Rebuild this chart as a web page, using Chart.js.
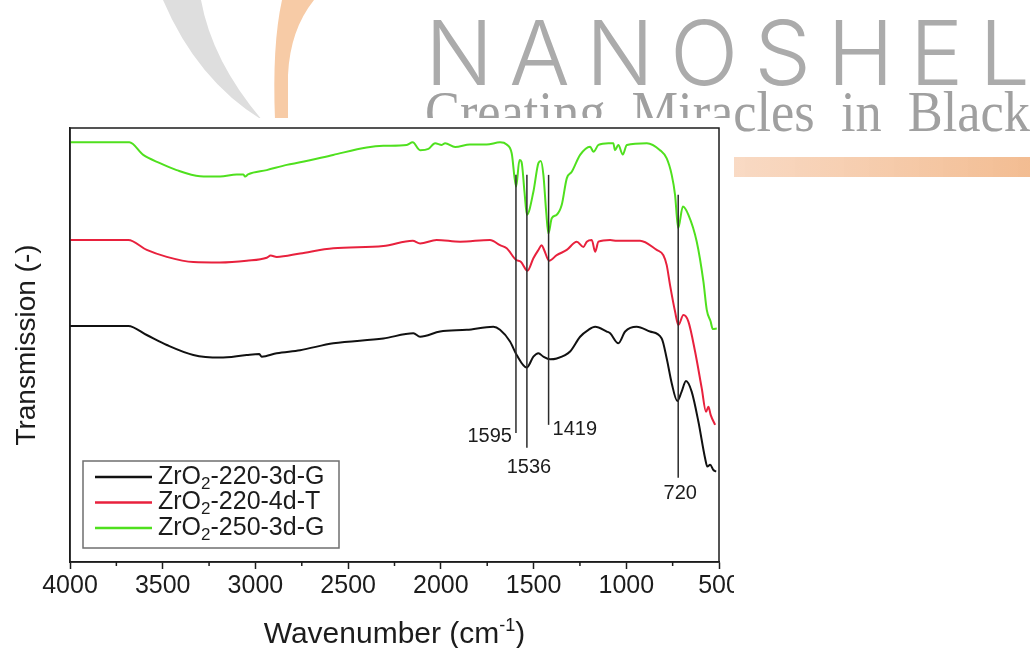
<!DOCTYPE html>
<html>
<head>
<meta charset="utf-8">
<script src="https://cdn.jsdelivr.net/npm/chart.js@4.4.0/dist/chart.umd.min.js"></script>
<style>
  html, body { margin: 0; padding: 0; background: #fff; }
  canvas { display: block; }
</style>
</head>
<body>
<canvas id="ftir" width="1036" height="648"></canvas>
<script>
// FTIR spectra, values (transmission in arbitrary units)
const wnBlack = [4000,3686,3586,3478,3335,3191,3047,2979,2966,2885,2759,2580,2310,2148,2112,2004,1860,1717,1681,1627,1591,1537,1501,1474,1447,1411,1375,1303,1249,1204,1168,1105,1087,1043,1006,944,872,809,782,755,725,702,678,647,611,575,563,548,530,516];
const tBlack  = [54.4,54.4,52.3,50.0,47.7,47.1,47.7,47.9,47.3,48.1,48.8,50.4,51.5,52.7,51.9,53.1,53.5,54.2,53.5,50.8,47.7,44.8,47.3,48.1,47.3,46.7,46.9,48.5,51.9,53.5,54.2,53.1,52.7,50.4,53.1,54.2,53.1,51.5,46.9,41.2,37.1,39.2,41.7,39.2,32.3,23.9,22.0,22.4,21.2,20.8];

const wnRed = [4000,3686,3586,3478,3335,3191,3047,2939,2918,2885,2759,2580,2310,2152,2112,2023,1896,1735,1681,1645,1594,1569,1533,1501,1474,1456,1443,1416,1375,1321,1267,1231,1213,1186,1168,1150,1087,1051,926,836,800,782,764,737,719,692,665,629,593,570,557,545,521];
const tRed  = [74.2,74.2,71.9,70.3,69.1,69.0,69.4,70.1,70.6,70.3,71.1,72.3,72.8,74.0,73.4,74.2,73.8,74.2,73.0,72.3,69.6,69.2,67.1,70.0,71.9,73.0,71.9,69.4,70.7,71.9,73.8,72.6,73.8,74.2,71.5,73.8,74.2,74.0,74.0,71.9,70.7,68.4,63.8,57.7,54.6,56.9,55.4,48.5,40.0,34.6,35.8,33.9,31.6];

const wnGreen = [4000,3680,3605,3515,3425,3299,3191,3101,3065,3056,3040,2939,2831,2759,2581,2400,2310,2184,2152,2112,2067,2031,1995,1977,1923,1843,1753,1681,1645,1618,1594,1576,1565,1549,1536,1501,1474,1461,1447,1432,1420,1402,1375,1348,1321,1294,1249,1195,1177,1150,1096,1070,1061,1043,1019,997,889,818,782,755,737,720,695,665,620,584,566,545,534,512];
const tGreen  = [96.7,96.7,93.8,91.9,90.3,88.9,88.8,89.3,89.3,88.8,89.3,90.3,91.5,92.1,93.8,95.5,95.9,96.1,96.7,94.9,95.2,96.5,96.1,96.5,95.6,96.2,96.2,96.7,96.2,94.2,86.5,92.6,92.2,85.3,80.0,85.3,91.9,92.4,89.2,80.7,75.7,79.2,80.0,82.3,88.4,89.9,93.8,95.7,94.5,96.1,96.5,96.5,94.9,96.1,93.9,96.1,96.5,94.9,93.0,89.2,84.6,76.9,81.9,80.0,73.8,64.6,58.1,55.4,53.7,53.8];

// marked bands: wavenumber, top and bottom of the marker line (same units as the spectra)
const peakWn     = [1595, 1536, 1419, 720];
const peakTop    = [89.2, 89.2, 89.2, 84.6];
const peakBottom = [29.7, 26.3, 31.6, 19.4];

const xTicks = [4000, 3500, 3000, 2500, 2000, 1500, 1000, 500];

// label placement for the markers
const peakSide = ['left', 'below', 'right', 'below'];
const peakDy   = [3, 20, 5, 16];

const INK = '#1c1c1c';
const FONT = "'Liberation Sans', Arial, Helvetica, sans-serif";

const toPoints = (xs, ys) => xs.map((x, i) => ({ x: x, y: ys[i] }));

// logo in the background, partly hidden by the figure
const watermark = {
    id: 'watermark',
    beforeDraw(chart) {
        const ctx = chart.ctx;
        ctx.save();

        // grey swoosh
        ctx.fillStyle = '#dedede';
        ctx.beginPath();
        ctx.moveTo(163, 0);
        ctx.quadraticCurveTo(197, 80, 262, 120);
        ctx.quadraticCurveTo(212, 61, 201, 0);
        ctx.closePath();
        ctx.fill();

        // orange swoosh
        ctx.fillStyle = '#f7cba6';
        ctx.beginPath();
        ctx.moveTo(282, 0);
        ctx.quadraticCurveTo(272, 45, 275, 120);
        ctx.lineTo(288, 120);
        ctx.lineTo(288, 75);
        ctx.quadraticCurveTo(290, 30, 314, 0);
        ctx.closePath();
        ctx.fill();

        // NANOSHEL, spread letters
        ctx.fillStyle = '#ababab';
        ctx.font = "350 90px Inter, 'DejaVu Sans', sans-serif";
        ctx.textBaseline = 'alphabetic';
        const word = 'NANOSHEL'.split('');
        const widths = word.map(ch => ctx.measureText(ch).width);
        const total = widths.reduce((a, b) => a + b, 0);
        const gap = (605 - total) / (word.length - 1);
        let cx = 425;
        word.forEach((ch, i) => {
            ctx.fillText(ch, cx, 85);
            cx += widths[i] + gap;
        });

        // tagline
        ctx.fillStyle = '#a0a0a0';
        ctx.font = "56px 'Liberation Serif', 'Times New Roman', serif";
        const tag = 'Creating  Miracles  in  Black';
        const tw = ctx.measureText(tag).width;
        ctx.save();
        ctx.translate(425, 131);
        ctx.scale(605 / tw, 1);
        ctx.fillText(tag, 0, 0);
        ctx.restore();

        // orange bar
        const g = ctx.createLinearGradient(733, 0, 1030, 0);
        g.addColorStop(0, 'rgba(248,214,190,0.9)');
        g.addColorStop(1, 'rgba(242,185,140,0.95)');
        ctx.fillStyle = g;
        ctx.fillRect(733, 157, 297, 20);

        // the figure itself sits on white
        ctx.fillStyle = '#fff';
        ctx.fillRect(0, 118, 734, 530);
        ctx.restore();
    }
};

// marker lines for the assigned bands
const peaks = {
    id: 'peaks',
    afterDatasetsDraw(chart) {
        const { ctx, scales: { x, y } } = chart;
        ctx.save();
        ctx.strokeStyle = '#2b2b2b';
        ctx.lineWidth = 1.5;
        ctx.fillStyle = INK;
        ctx.font = `20px ${FONT}`;
        peakWn.forEach((wn, i) => {
            const px = x.getPixelForValue(wn);
            const top = y.getPixelForValue(peakTop[i]);
            const bot = y.getPixelForValue(peakBottom[i]);
            ctx.beginPath();
            ctx.moveTo(px, top);
            ctx.lineTo(px, bot);
            ctx.stroke();

            ctx.textBaseline = 'middle';
            if (peakSide[i] === 'left') {
                ctx.textAlign = 'right';
                ctx.fillText(String(wn), px - 4, bot + peakDy[i]);
            } else if (peakSide[i] === 'right') {
                ctx.textAlign = 'left';
                ctx.fillText(String(wn), px + 4, bot + peakDy[i]);
            } else {
                ctx.textAlign = 'center';
                ctx.fillText(String(wn), px + 2, bot + peakDy[i]);
            }
        });
        ctx.restore();
    }
};

// frame, minor ticks, legend with subscripts, axis title with superscript
const extras = {
    id: 'extras',
    afterDraw(chart) {
        const { ctx, chartArea: a, scales: { x } } = chart;
        ctx.save();

        ctx.strokeStyle = INK;
        ctx.lineWidth = 1.5;
        ctx.strokeRect(a.left, a.top, a.right - a.left, a.bottom - a.top);

        // minor ticks halfway between labels
        for (let i = 0; i < xTicks.length - 1; i++) {
            const px = x.getPixelForValue((xTicks[i] + xTicks[i + 1]) / 2);
            ctx.beginPath();
            ctx.moveTo(px, a.bottom);
            ctx.lineTo(px, a.bottom + 4);
            ctx.stroke();
        }

        // legend
        const lx = 83, ly = 461, lw = 256, lh = 87;
        ctx.strokeStyle = '#6f6f6f';
        ctx.lineWidth = 1.5;
        ctx.strokeRect(lx, ly, lw, lh);
        chart.data.datasets.forEach((ds, i) => {
            const rowY = ly + 16 + i * 25.5;
            ctx.strokeStyle = ds.borderColor;
            ctx.lineWidth = 2.5;
            ctx.beginPath();
            ctx.moveTo(lx + 12, rowY);
            ctx.lineTo(lx + 69, rowY);
            ctx.stroke();

            const [base, rest] = ds.label.split('\u2082');
            let tx = lx + 75;
            ctx.fillStyle = INK;
            ctx.textBaseline = 'middle';
            ctx.textAlign = 'left';
            ctx.font = `25px ${FONT}`;
            ctx.fillText(base, tx, rowY);
            tx += ctx.measureText(base).width;
            ctx.font = `17px ${FONT}`;
            ctx.fillText('2', tx, rowY + 7);
            tx += ctx.measureText('2').width;
            ctx.font = `25px ${FONT}`;
            ctx.fillText(rest, tx, rowY);
        });

        // x axis title
        const main = 'Wavenumber (cm', sup = '-1', close = ')';
        ctx.fillStyle = INK;
        ctx.textBaseline = 'alphabetic';
        ctx.textAlign = 'left';
        ctx.font = `30px ${FONT}`;
        const w1 = ctx.measureText(main).width, w3 = ctx.measureText(close).width;
        ctx.font = `18px ${FONT}`;
        const w2 = ctx.measureText(sup).width;
        let tx = (a.left + a.right) / 2 - (w1 + w2 + w3) / 2;
        const base = 643;
        ctx.font = `30px ${FONT}`;
        ctx.fillText(main, tx, base);
        tx += w1;
        ctx.font = `18px ${FONT}`;
        ctx.fillText(sup, tx, base - 12);
        tx += w2;
        ctx.font = `30px ${FONT}`;
        ctx.fillText(close, tx, base);

        // the source figure is cropped on the right
        ctx.fillStyle = '#fff';
        ctx.fillRect(734, 190, 302, 458);
        ctx.restore();
    }
};

new Chart(document.getElementById('ftir'), {
    type: 'line',
    data: {
        datasets: [
            { label: 'ZrO\u2082-220-3d-G', data: toPoints(wnBlack, tBlack), borderColor: '#111111' },
            { label: 'ZrO\u2082-220-4d-T', data: toPoints(wnRed, tRed), borderColor: '#e8213d' },
            { label: 'ZrO\u2082-250-3d-G', data: toPoints(wnGreen, tGreen), borderColor: '#4fe01e' }
        ]
    },
    options: {
        responsive: false,
        animation: false,
        devicePixelRatio: 1,
        layout: { padding: { left: 0, top: 128, right: 317, bottom: 0 } },
        elements: {
            point: { radius: 0 },
            line: { borderWidth: 2, fill: false, cubicInterpolationMode: 'monotone' }
        },
        plugins: {
            legend: { display: false },
            tooltip: { enabled: false }
        },
        scales: {
            x: {
                type: 'linear',
                reverse: true,
                min: 500,
                max: 4000,
                afterBuildTicks: s => { s.ticks = xTicks.map(v => ({ value: v })); },
                ticks: {
                    color: INK,
                    font: { family: FONT, size: 25 },
                    padding: 2,
                    maxRotation: 0,
                    autoSkip: false,
                    callback: v => String(v)
                },
                grid: { display: true, drawOnChartArea: false, drawTicks: true, tickLength: 7, tickColor: INK, tickWidth: 1.5 },
                border: { display: true, color: INK, width: 1.5 },
                afterFit: s => { s.height = 86; }
            },
            y: {
                min: 0,
                max: 100,
                ticks: { display: false },
                grid: { display: false },
                border: { display: true, color: INK, width: 1.5 },
                title: {
                    display: true,
                    text: 'Transmission (-)',
                    color: INK,
                    font: { family: FONT, size: 28 },
                    padding: { top: 10, bottom: 0 }
                },
                afterFit: s => { s.width = 70; }
            }
        }
    },
    plugins: [watermark, peaks, extras]
});
</script>
</body>
</html>
